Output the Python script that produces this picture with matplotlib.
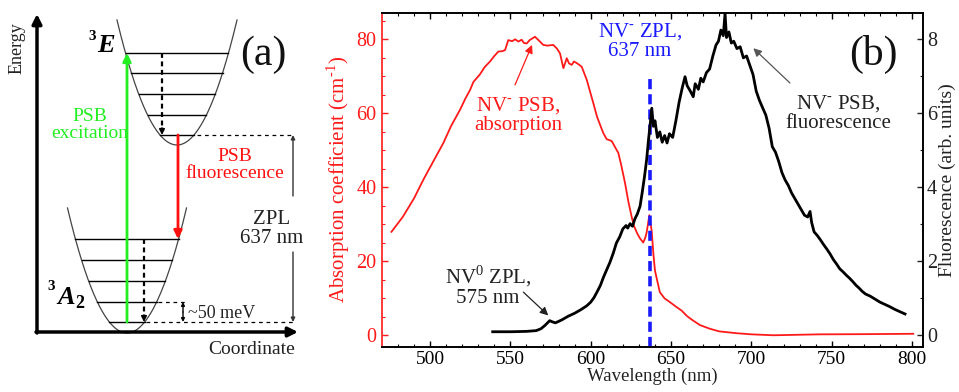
import numpy as np
import matplotlib
matplotlib.use('Agg')
import matplotlib.pyplot as plt

plt.rcParams['font.family'] = ['Liberation Serif', 'DejaVu Serif']
plt.rcParams['mathtext.fontset'] = 'custom'
plt.rcParams['mathtext.rm'] = 'Liberation Serif'

# ---- panel (b) data ----
abs_wl = [476, 483, 490, 496, 502, 508.3, 513, 518.7, 522, 525, 527, 529, 531, 534,
          537.3, 540, 542.5, 545, 546.7, 548.7, 551, 553, 555, 557, 558.5, 560.2, 562,
          565.3, 567, 570.5, 573, 576.7, 579, 580.9, 583, 585.1, 586.5, 588.2, 589.5,
          591.3, 594.4, 597.5, 601.6, 604, 607.8, 610, 611.5, 613.1, 615, 617.2, 619,
          621.3, 623.5, 625.5, 627, 629, 630.7, 632.7, 634, 634.8, 636.5, 638, 639, 640,
          643, 646, 649.3, 653, 656.6, 660, 663.8, 668, 674.2, 680, 690.9, 700, 713.6,
          742.7, 770, 800.7]
abs_val = [28.0, 32, 37, 42.2, 47, 52, 56.5, 61, 64, 66.4, 68.5, 69.5, 70.5, 72.5,
           74, 75.5, 76.7, 76.8, 77.1, 79.8, 79.5, 80, 79.4, 79.9, 79.0, 78.9, 79.8,
           80.7, 80.0, 78.5, 78.3, 78.5, 77.5, 76.2, 72.2, 74.9, 73.5, 73.1, 74.0,
           73.6, 72.6, 69.1, 62.8, 59, 54.7, 53, 52.8, 52.5, 51, 49.3, 46,
           41.3, 36, 32, 29.5, 27.5, 26.2, 25.1, 26.5, 27.8, 32.5, 28, 22, 17.5,
           11.7, 10, 9, 7.8, 6.7, 5.2, 4, 2.8, 1.8, 1.1, 0.6, 0.3, 0.05,
           0.3, 0.35, 0.45]

fl_wl = [539, 550, 560, 566, 569, 571.5, 574.5, 576, 578, 582, 586, 590, 594, 597.5,
         600, 602, 604, 606, 608, 610, 612, 614, 616, 618, 620, 622, 623, 624.5, 626,
         627.5, 629, 630.7, 632, 633.5, 634.8, 636, 637, 638, 639, 640, 641.5, 643,
         644.5, 646, 647.5, 649, 651, 653, 655, 657, 658.7, 660, 662, 663.8, 665, 667,
         668.5, 670, 672, 674, 676, 678, 679.5, 681, 682.5, 683.6, 684.5, 686, 687.5,
         689, 691, 693, 695, 697, 699, 701, 703, 705, 707, 709, 711, 713, 715, 717,
         719, 721, 723, 725, 727, 729, 731, 733, 735, 736.5, 737.5, 739, 741, 743,
         745, 747, 749, 751, 753, 755, 757, 759, 761, 763, 765, 767, 769, 771, 774,
         777, 780, 783, 786, 789, 792, 795.6]
fl_val = [0.10, 0.10, 0.11, 0.13, 0.18, 0.27, 0.40, 0.37, 0.34, 0.42, 0.52, 0.60, 0.70, 0.80,
          0.90, 1.02, 1.18, 1.35, 1.58, 1.78, 1.98, 2.22, 2.50, 2.66, 2.88, 2.97, 2.90, 3.02, 2.95,
          3.15, 3.28, 3.49, 3.85, 4.30, 4.75, 5.30, 5.70, 6.14, 5.65, 5.80, 5.35, 5.50,
          5.22, 5.40, 5.20, 5.45, 5.35, 5.80, 6.30, 6.70, 6.99, 6.75, 6.60, 6.45, 6.80, 6.65,
          6.95, 6.85, 7.10, 7.20, 7.55, 7.85, 7.95, 8.25, 8.10, 8.70, 8.05, 8.20, 7.90,
          7.95, 7.75, 7.80, 7.50, 7.55, 7.30, 7.05, 6.60, 6.35, 6.15, 5.95, 5.60, 5.10, 4.95, 4.70,
          4.40, 4.20, 4.05, 3.85, 3.70, 3.55, 3.40, 3.25, 3.20, 3.35, 3.05, 2.80, 2.70, 2.58,
          2.45, 2.33, 2.20, 2.05, 1.93, 1.80, 1.72, 1.63, 1.55, 1.46, 1.36, 1.28, 1.19, 1.12, 1.06,
          0.98, 0.90, 0.84, 0.78, 0.71, 0.65, 0.58]

zpl_nm = 637
zpl_top = 70.4

fig = plt.figure(figsize=(9.59, 3.92), dpi=100)

# ---- panel (a): level diagram, drawn in pixel units ----
axa = fig.add_axes([0, 0, 310 / 959, 1])
axa.set_xlim(0, 310)
axa.set_ylim(392, 0)
axa.axis('off')

def parabola(x0, y0, k, ytop):
    hw = np.sqrt((y0 - ytop) / k)
    xs = np.linspace(x0 - hw, x0 + hw, 200)
    axa.plot(xs, y0 - k * (xs - x0) ** 2, color='#444444', lw=0.9)

def levels(x0, y0, k, ys):
    for y in ys:
        hw = np.sqrt((y0 - y) / k)
        axa.plot([x0 - hw, x0 + hw], [y, y], color='k', lw=1.0)

up = (177, 145, 0.0347)
lo = (127, 333, 0.0353)
up_levels = [53, 73, 94, 115, 135]
lo_levels = [239, 260, 281, 302, 322]
parabola(*up, 20)
parabola(*lo, 208)
levels(*up, up_levels)
levels(*lo, lo_levels)

def arrow(tail, tip, color='k', lw=1.5, ms=12):
    axa.annotate('', xy=tip, xytext=tail,
                 arrowprops=dict(arrowstyle='-|>', color=color, lw=lw,
                                 mutation_scale=ms, shrinkA=0, shrinkB=0))

# axes arrows
arrow((37, 333), (37, 14), lw=2.5, ms=14)
arrow((36, 332), (298, 332), lw=2.5, ms=14)
axa.text(17, 48, 'Energy', rotation=90, ha='center', va='center', fontsize=13, color='#222222')
axa.text(252, 350, 'Coordinate', ha='center', va='center', fontsize=14, color='#222222')

# transitions
arrow((127, 322), (127, 53), color='#22ee22', lw=2, ms=12)
arrow((178, 135), (178, 239), color='#ff1010', lw=2, ms=12)
axa.plot([162, 162], [53, 128], color='k', lw=1.6, ls=(0, (2.2, 1.6)))
arrow((162, 128), (162, 135), lw=1.2, ms=8)
axa.plot([144, 144], [239, 315], color='k', lw=1.6, ls=(0, (2.2, 1.6)))
arrow((144, 315), (144, 322), lw=1.2, ms=8)

# dotted guides
axa.plot([197, 293], [135, 135], color='k', lw=0.9, ls=(0, (3, 3)))
axa.plot([146, 293], [322, 322], color='k', lw=0.9, ls=(0, (3, 3)))
axa.plot([158, 185], [302, 302], color='k', lw=0.9, ls=(0, (3, 3)))

# ZPL bracket
arrow((293, 196), (293, 135), color='#333333', lw=1.0, ms=6)
arrow((293, 252), (293, 322), color='#333333', lw=1.0, ms=6)
arrow((183, 312), (183, 302), lw=1.0, ms=5)
arrow((183, 312), (183, 322), lw=1.0, ms=5)

axa.text(90, 125, 'PSB\nexcitation', color='#22ee22', ha='center', va='center',
         fontsize=14, linespacing=1.0)
axa.text(235, 165, 'PSB\nfluorescence', color='#ff1010', ha='center', va='center',
         fontsize=14, linespacing=1.0)
axa.text(272, 229, 'ZPL\n637 nm', color='#222222', ha='center', va='center',
         fontsize=15, linespacing=1.0)
axa.text(188, 314, '~50 meV', color='#222222', ha='left', va='center', fontsize=13)
axa.text(263, 55, '(a)', ha='center', va='center', fontsize=30, color='#111111')

axa.text(92, 36, '3', ha='center', va='center', fontsize=11, fontweight='bold')
axa.text(106, 45, 'E', ha='center', va='center', fontsize=19, fontweight='bold', style='italic')
axa.text(51, 287, '3', ha='center', va='center', fontsize=11, fontweight='bold')
axa.text(66, 297, 'A', ha='center', va='center', fontsize=19, fontweight='bold', style='italic')
axa.text(80, 303, '2', ha='center', va='center', fontsize=13, fontweight='bold')

# ---- panel (b): spectra ----
ax1 = fig.add_axes([382.3 / 959, 45 / 392, 540.4 / 959, 334.3 / 392])
ax2 = ax1.twinx()

red = '#ff1a1a'
ax1.plot(abs_wl, abs_val, color=red, lw=1.3, zorder=3)
ax2.plot(fl_wl, fl_val, color='k', lw=2.0, zorder=2)
ax1.vlines(zpl_nm, -3.12, zpl_top, color='#1a1aff', lw=2.6, linestyles=(0, (2.8, 1.4)), zorder=4)

ax1.set_xlim(470.3, 806.6)
ax1.set_ylim(-3.12, 87.2)
ax2.set_ylim(-0.312, 8.72)
ax1.set_xticks([500, 550, 600, 650, 700, 750, 800])
ax1.set_xticks(np.arange(480, 806, 10), minor=True)
ax1.set_yticks([0, 20, 40, 60, 80])
ax1.set_yticks(np.arange(0, 86, 5), minor=True)
ax2.set_yticks([0, 2, 4, 6, 8])
ax2.set_yticks(np.arange(0, 8.7, 1), minor=True)

ax1.tick_params(axis='both', which='both', direction='in', top=True, labelsize=14, pad=3)
ax1.tick_params(which='major', length=4, width=1)
ax1.tick_params(which='minor', length=2.5, width=0.8)
ax1.tick_params(axis='y', which='both', colors=red, pad=4, labelsize=14.5)
ax2.tick_params(axis='y', which='both', direction='in', labelsize=14.5, pad=3, colors='#222222')
ax2.tick_params(which='major', length=4, width=1)
ax2.tick_params(which='minor', length=2.5, width=0.8)

for sp in ax1.spines.values():
    sp.set_linewidth(1.2)
for sp in ax2.spines.values():
    sp.set_linewidth(1.2)
ax1.spines['left'].set_color(red)
ax2.spines['left'].set_visible(False)

sup_dash = r'$^{\text{-}}$'
ax1.set_xlabel('Wavelength (nm)', fontsize=13.5, labelpad=0, color='#222222')
ax1.set_ylabel('Absorption coefficient (cm' + r'$^{\text{-1}}$' + ')', fontsize=15,
               color=red, labelpad=3)
ax2.set_ylabel('Fluorescence (arb. units)', fontsize=14, color='#222222', labelpad=1)

ax1.text(630.7, 79.6, 'NV' + sup_dash + ' ZPL,\n637 nm', color='#1a1aff', ha='center',
         va='center', fontsize=15, linespacing=1.0)
ax1.text(554.8, 59.5, 'NV' + sup_dash + ' PSB,\nabsorption', color=red, ha='center',
         va='center', fontsize=15, linespacing=1.0)
ax1.annotate('', xy=(563.5, 78.5), xytext=(552.9, 67.7),
             arrowprops=dict(arrowstyle='-|>', color=red, lw=0.9, mutation_scale=12,
                             shrinkA=0, shrinkB=0))
ax2.text(536.1, 1.33, 'NV' + r'$^{\text{0}}$' + ' ZPL,\n575 nm', color='#222222',
         ha='center', va='center', fontsize=15, linespacing=1.0)
ax2.annotate('', xy=(573.6, 0.54), xytext=(558.1, 1.17),
             arrowprops=dict(arrowstyle='-|>', color='#222222', lw=0.9, mutation_scale=12,
                             shrinkA=0, shrinkB=0))
ax2.text(753.9, 6.02, 'NV' + sup_dash + ' PSB,\nfluorescence', color='#222222',
         ha='center', va='center', fontsize=15, linespacing=1.0)
ax2.annotate('', xy=(701.2, 7.76), xytext=(724, 6.82),
             arrowprops=dict(arrowstyle='-|>', color='#555555', lw=0.9, mutation_scale=12,
                             shrinkA=0, shrinkB=0))
ax1.text(776, 75.8, '(b)', ha='center', va='center', fontsize=30, color='#111111')

fig.savefig('out.png', dpi=100)
